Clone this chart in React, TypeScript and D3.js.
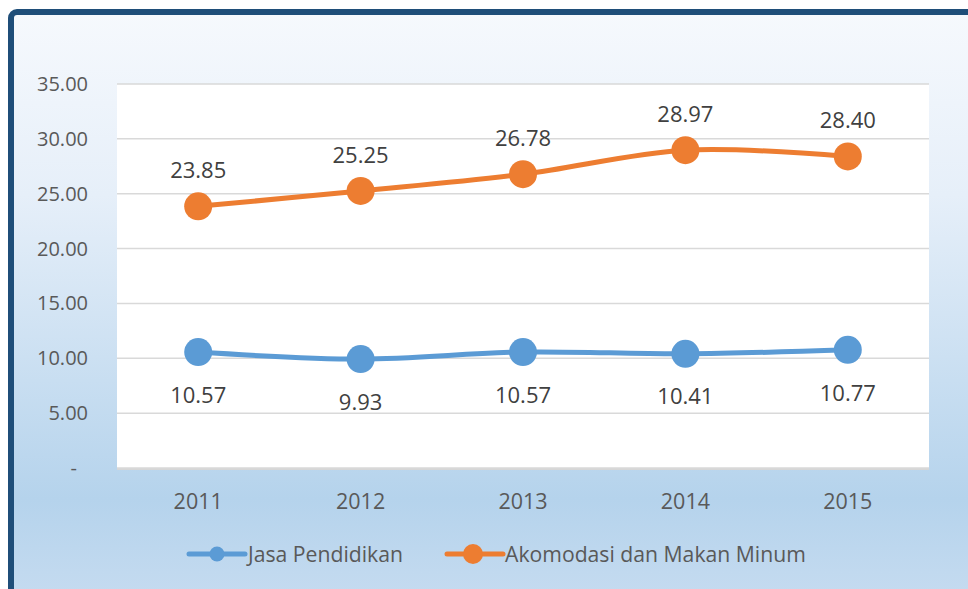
import React from "react";
import * as d3 from "d3";

const years = ["2011", "2012", "2013", "2014", "2015"];
const jasaPendidikan = [10.57, 9.93, 10.57, 10.41, 10.77];
const akomodasi = [23.85, 25.25, 26.78, 28.97, 28.4];
const yTicks = [0, 5, 10, 15, 20, 25, 30, 35];
const seriesNames = ["Jasa Pendidikan", "Akomodasi dan Makan Minum"];
const seriesColors = ["#5B9BD5", "#ED7D31"];

const W = 968;
const H = 589;
const plot = { left: 117, right: 929, top: 84, bottom: 468 };
const FONT = "'Open Sans', Lato, sans-serif";

export default function App() {
  const x = d3.scaleBand<string>().domain(years).range([plot.left, plot.right]);
  const y = d3.scaleLinear().domain([0, 35]).range([plot.bottom, plot.top]);
  const cx = (d: string) => (x(d) ?? 0) + x.bandwidth() / 2;
  const line = d3
    .line<number>()
    .x((_, i) => cx(years[i]))
    .y((v) => y(v))
    .curve(d3.curveCatmullRom.alpha(0.5));
  const fmt = d3.format(".2f");
  const series = [jasaPendidikan, akomodasi];
  const legend = [
    { x0: 189, x1: 245, mx: 217, r: 7.5, tx: 248 },
    { x0: 447, x1: 503, mx: 473, r: 10, tx: 505 },
  ];

  return (
    <svg
      width={W}
      height={H}
      style={{ position: "absolute", left: 0, top: 0, display: "block" }}
      fontFamily={FONT}
    >
      <defs>
        <linearGradient id="bg" x1="0" y1="0" x2="0" y2="1">
          <stop offset="0" stopColor="#f6f9fd" />
          <stop offset="0.3" stopColor="#e6eff9" />
          <stop offset="0.8" stopColor="#b5d3ec" />
          <stop offset="1" stopColor="#c9ddf1" />
        </linearGradient>
      </defs>
      <rect x={0} y={0} width={W} height={H} fill="#ffffff" />
      <rect
        x={11}
        y={12}
        width={W + 20}
        height={H + 20}
        rx={6}
        fill="url(#bg)"
        stroke="#1F4E79"
        strokeWidth={6}
      />
      <rect x={plot.left} y={plot.top + 2} width={plot.right - plot.left} height={plot.bottom - plot.top} fill="#d6d6d6" />
      <rect x={plot.left} y={plot.top} width={plot.right - plot.left} height={plot.bottom - plot.top} fill="#ffffff" />
      {yTicks.map((t) => (
        <g key={t}>
          <line x1={plot.left} x2={plot.right} y1={y(t)} y2={y(t)} stroke="#d9d9d9" strokeWidth={1.5} />
          <text
            x={t === 0 ? 77 : 88}
            y={y(t)}
            dy="0.35em"
            textAnchor="end"
            fontSize={20}
            fill="#595959"
          >
            {t === 0 ? "-" : fmt(t)}
          </text>
        </g>
      ))}
      {years.map((yr) => (
        <text key={yr} x={cx(yr)} y={501} dy="0.35em" textAnchor="middle" fontSize={21.5} fill="#595959">
          {yr}
        </text>
      ))}
      {series.map((vals, si) => (
        <g key={si}>
          <path d={line(vals) ?? ""} fill="none" stroke={seriesColors[si]} strokeWidth={5} strokeLinecap="round" />
          {vals.map((v, i) => (
            <circle key={i} cx={cx(years[i])} cy={y(v)} r={14} fill={seriesColors[si]} />
          ))}
          {vals.map((v, i) => (
            <text
              key={"l" + i}
              x={cx(years[i])}
              y={si === 0 ? y(v) + 43 : y(v) - 36}
              dy="0.35em"
              textAnchor="middle"
              fontSize={22}
              fill="#404040"
            >
              {fmt(v)}
            </text>
          ))}
        </g>
      ))}
      {legend.map((l, i) => (
        <g key={i}>
          <line x1={l.x0} x2={l.x1} y1={554} y2={554} stroke={seriesColors[i]} strokeWidth={5} strokeLinecap="round" />
          <circle cx={l.mx} cy={554} r={l.r} fill={seriesColors[i]} />
          <text x={l.tx} y={555} dy="0.35em" fontSize={21.2} fill="#595959">
            {seriesNames[i]}
          </text>
        </g>
      ))}
    </svg>
  );
}
